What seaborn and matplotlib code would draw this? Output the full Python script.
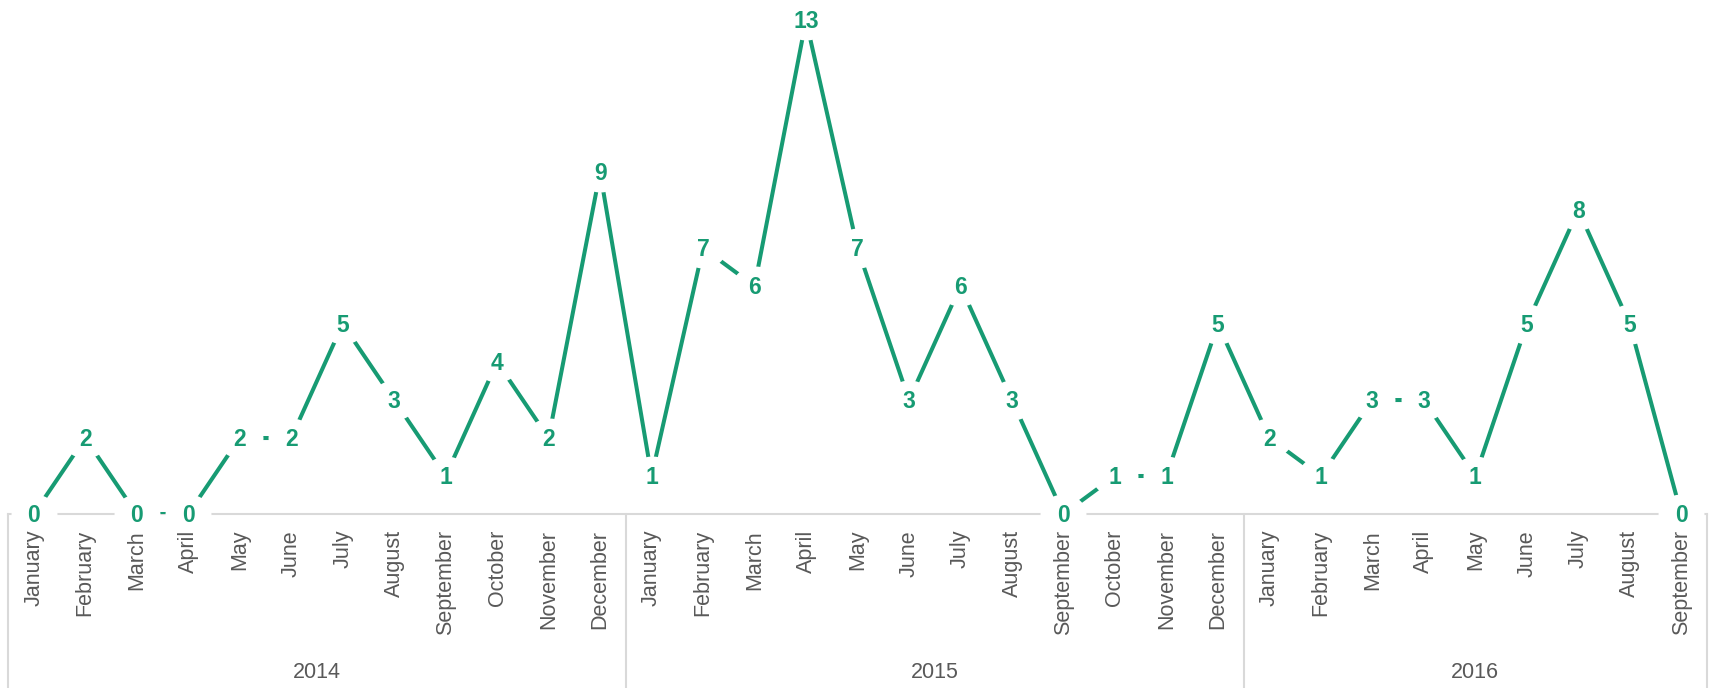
import matplotlib
matplotlib.use("Agg")
import matplotlib.pyplot as plt
import matplotlib.transforms as mtransforms
from matplotlib import font_manager
from matplotlib.path import Path
import numpy as np
import pandas as pd
import seaborn as sns

# data
years = ["2014", "2015", "2016"]
months_2014 = ["January", "February", "March", "April", "May", "June", "July",
               "August", "September", "October", "November", "December"]
months_2015 = ["January", "February", "March", "April", "May", "June", "July",
               "August", "September", "October", "November", "December"]
months_2016 = ["January", "February", "March", "April", "May", "June", "July",
               "August", "September"]
values_2014 = [0, 2, 0, 0, 2, 2, 5, 3, 1, 4, 2, 9]
values_2015 = [1, 7, 6, 13, 7, 3, 6, 3, 0, 1, 1, 5]
values_2016 = [2, 1, 3, 3, 1, 5, 8, 5, 0]

months = months_2014 + months_2015 + months_2016
values = values_2014 + values_2015 + values_2016
group_sizes = [len(months_2014), len(months_2015), len(months_2016)]
df = pd.DataFrame({"idx": np.arange(len(values)), "month": months, "value": values})

green = "#179b73"
grey_text = "#595959"
grey_line = "#d9d9d9"

sns.set_theme(style="white")
installed = {f.name for f in font_manager.fontManager.ttflist}
narrow = "Liberation Sans Narrow" if "Liberation Sans Narrow" in installed else "Liberation Sans"
plt.rcParams["font.family"] = ["Liberation Sans", "DejaVu Sans"]

fig = plt.figure(figsize=(17.13, 6.88), dpi=100)
ax = fig.add_axes([8 / 1713, 1 - 514 / 688, 1699 / 1713, 514 / 688])

sns.lineplot(data=df, x="idx", y="value", color=green, linewidth=2.9, ax=ax, zorder=2)

# white ovals behind the labels cut the line like the original
t = np.linspace(0, 2 * np.pi, 65)
oval = Path(np.column_stack([23 * np.cos(t), 20 * np.sin(t)]), closed=True)
ax.plot(df["idx"], df["value"], linestyle="none", marker=oval, markersize=33.1,
        markerfacecolor="white", markeredgewidth=0, zorder=3, clip_on=False)

for i, v in zip(df["idx"], df["value"]):
    ax.annotate(str(v), (i, v), xytext=(0, -6), textcoords="offset points",
                ha="center", va="baseline", color=green, fontsize=16.5,
                fontweight="bold", family=[narrow, "DejaVu Sans"], zorder=4,
                annotation_clip=False)

ax.set_xlim(-0.5, len(values) - 0.5)
ax.set_ylim(0, 13.53)
ax.set_xlabel("")
ax.set_ylabel("")
ax.set_yticks([])
ax.set_xticks(df["idx"])
ax.set_xticklabels(months, rotation=90, ha="center", va="top",
                   fontsize=15.5, color=grey_text)
ax.tick_params(axis="x", length=0, pad=11.5)
ax.xaxis.set_zorder(5)
for side in ["top", "left", "right"]:
    ax.spines[side].set_visible(False)
ax.spines["bottom"].set_color(grey_line)
ax.spines["bottom"].set_linewidth(1.5)
ax.spines["bottom"].set_zorder(1)

# year groups below the month labels
trans_line = mtransforms.blended_transform_factory(ax.transData, ax.transAxes)
trans_text = mtransforms.blended_transform_factory(ax.transData, fig.transFigure)
bottom = -174 / 514
edges = np.concatenate([[0], np.cumsum(group_sizes)]) - 0.5
for e in edges:
    ax.plot([e, e], [0, bottom], color=grey_line, linewidth=1.5,
            transform=trans_line, clip_on=False, zorder=1)
for y, a, b in zip(years, edges[:-1], edges[1:]):
    ax.text((a + b) / 2, 1 - 673 / 688, y, transform=trans_text, ha="center",
            va="center", fontsize=15.5, color=grey_text)

fig.savefig("out.png", dpi=100)
